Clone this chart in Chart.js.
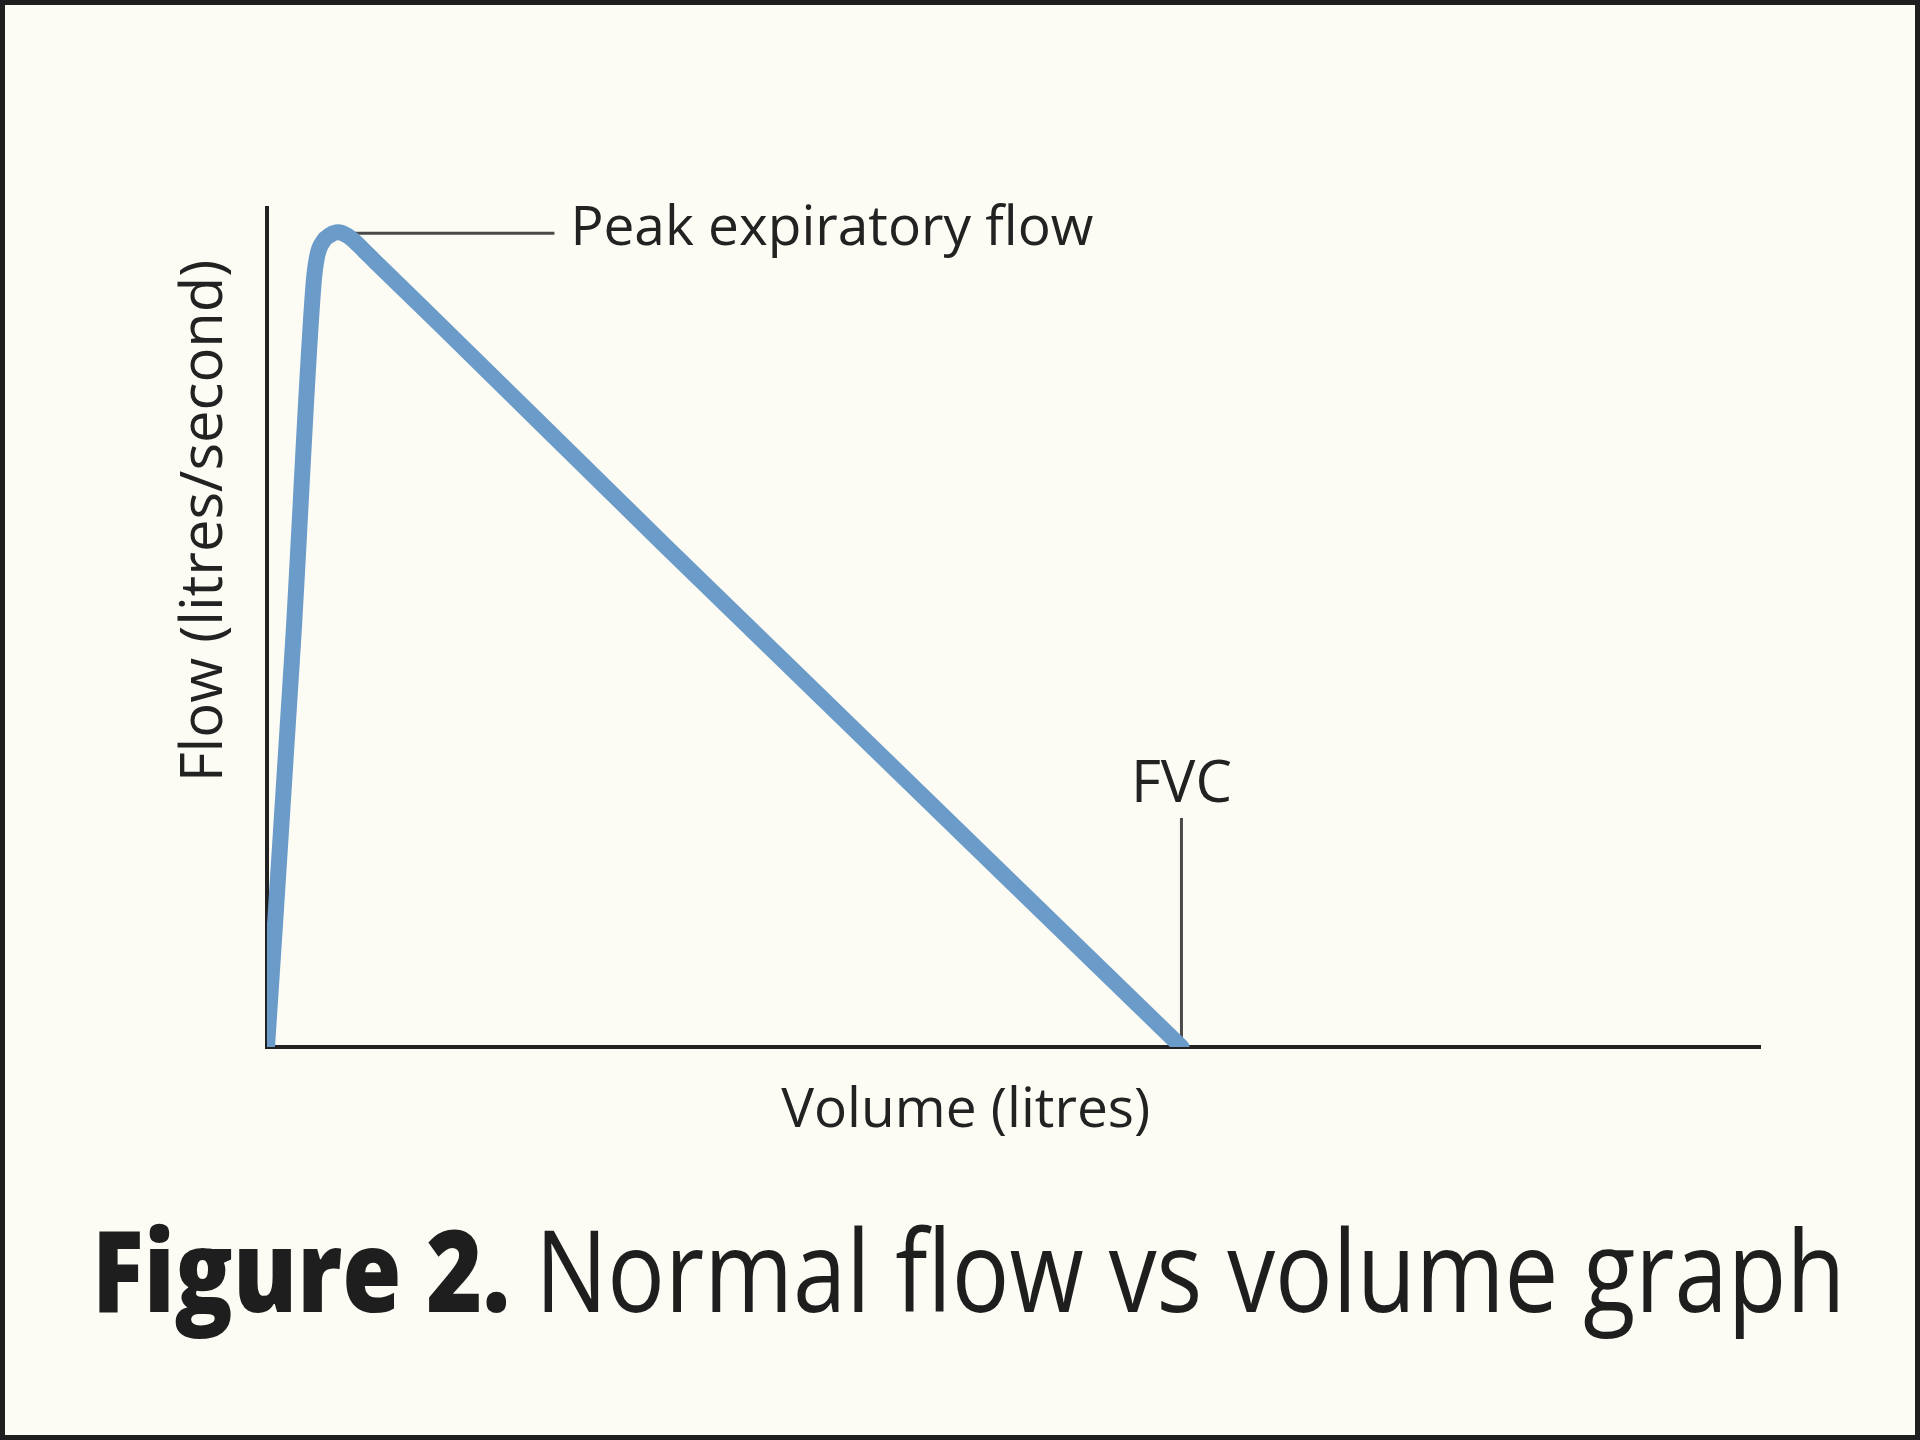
<!DOCTYPE html>
<html>
<head>
<meta charset="utf-8">
<title>Normal flow vs volume graph</title>
<script src="https://cdn.jsdelivr.net/npm/chart.js@4"></script>
<style>
  html, body { margin: 0; padding: 0; background: #fcfcf4; }
  #frame {
    position: relative;
    width: 1920px;
    height: 1440px;
    box-sizing: border-box;
    border: 5px solid #1e1e1e;
    background: #fcfcf4;
    overflow: hidden;
  }
  #flowChart { position: absolute; left: -5px; top: -5px; }
  #caption {
    position: absolute;
    left: 87px;
    top: 1206px;
    font-family: "Open Sans", sans-serif;
    font-size: 114px;
    line-height: 114px;
    color: #1e1e1e;
    white-space: nowrap;
    transform-origin: left top;
    transform: scaleX(0.841);
  }
  #caption b { font-weight: 800; }
</style>
</head>
<body>
<div id="frame">
  <canvas id="flowChart" width="1920" height="1440"></canvas>
  <div id="caption"><b>Figure 2.</b> Normal flow vs volume graph</div>
</div>
<script>
// Expiratory flow-volume curve
const volume = [0, 0.14, 0.25, 0.27, 0.30, 0.34, 0.38, 0.43, 0.48, 0.53, 0.58, 0.94, 2.14, 4.90];
const flow   = [0, 4.84, 9.11, 9.44, 9.60, 9.68, 9.71, 9.67, 9.58, 9.47, 9.36, 8.58, 5.96, 0];

// annotation values
const peakFlow = 9.70;
const peakVolume = 0.43;
const leaderEnd = 1.54;
const fvc = 4.90;
const fvcMarkTop = 2.73;

const xTitle = "Volume (litres)";
const yTitle = "Flow (litres/second)";

const ink = "#222222";
Chart.defaults.font.family = "'Open Sans', sans-serif";
Chart.defaults.color = ink;

const curve = volume.map((v, i) => ({ x: v, y: flow[i] }));

// axis titles and the two annotation labels
const labelPlugin = {
  id: "labels",
  afterDraw(chart) {
    const { ctx, chartArea: area, scales: { x, y } } = chart;
    ctx.save();
    ctx.fillStyle = ink;
    ctx.textBaseline = "alphabetic";

    ctx.font = "55px 'Open Sans', sans-serif";
    ctx.textAlign = "left";
    ctx.fillText("Peak expiratory flow", x.getPixelForValue(leaderEnd) + 16, y.getPixelForValue(peakFlow) + 12);

    ctx.font = "58px 'Open Sans', sans-serif";
    ctx.textAlign = "center";
    ctx.fillText("FVC", x.getPixelForValue(fvc), y.getPixelForValue(fvcMarkTop) - 16);

    // x title sits under the axis, a little left of centre
    ctx.font = "55px 'Open Sans', sans-serif";
    ctx.fillText(xTitle, area.left + area.width * 0.468, area.bottom + 80);

    // y title, rotated, sits above the middle of the axis
    ctx.font = "58px 'Open Sans', sans-serif";
    ctx.translate(area.left - 45, area.top + area.height * 0.373);
    ctx.rotate(-Math.PI / 2);
    ctx.fillText(yTitle, 0, 0);
    ctx.restore();
  }
};

new Chart(document.getElementById("flowChart"), {
  type: "line",
  data: {
    datasets: [
      {
        label: "Flow",
        data: curve,
        borderColor: "#6b9bc9",
        borderWidth: 16,
        borderCapStyle: "round",
        borderJoinStyle: "round",
        cubicInterpolationMode: "monotone",
        pointRadius: 0,
        fill: false
      },
      {
        label: "Peak leader",
        data: [{ x: peakVolume, y: peakFlow }, { x: leaderEnd, y: peakFlow }],
        borderColor: "#4a4a4a",
        borderWidth: 3,
        pointRadius: 0
      },
      {
        label: "FVC mark",
        data: [{ x: fvc, y: 0 }, { x: fvc, y: fvcMarkTop }],
        borderColor: "#4a4a4a",
        borderWidth: 3,
        pointRadius: 0
      }
    ]
  },
  options: {
    responsive: false,
    animation: false,
    devicePixelRatio: 1,
    layout: { padding: { left: 267, right: 160, top: 208, bottom: 393 } },
    plugins: {
      legend: { display: false },
      tooltip: { enabled: false }
    },
    scales: {
      x: {
        type: "linear",
        min: 0,
        max: 8,
        grid: { display: false, drawTicks: false },
        border: { display: true, color: ink, width: 4 },
        ticks: { display: false }
      },
      y: {
        type: "linear",
        min: 0,
        max: 10,
        grid: { display: false, drawTicks: false },
        border: { display: true, color: ink, width: 4 },
        ticks: { display: false }
      }
    }
  },
  plugins: [labelPlugin]
});
</script>
</body>
</html>
